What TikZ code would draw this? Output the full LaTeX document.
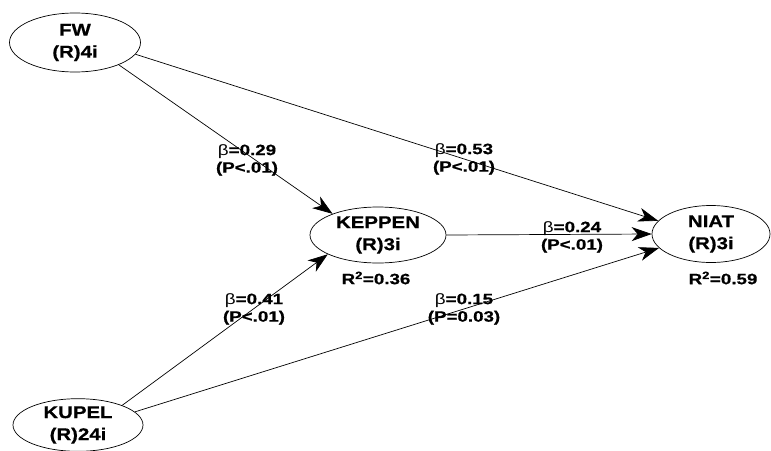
\documentclass[tikz,border=0pt]{standalone}
\usepackage{fontspec}
\setmainfont{Liberation Sans}
\newfontfamily\nodefont{Liberation Sans}[FakeStretch=1.2,BoldFeatures={FakeBold=0.6}]
\newfontfamily\labfont{Liberation Sans}[FakeStretch=1.25,BoldFeatures={FakeBold=0.6}]
\usetikzlibrary{shapes.geometric,arrows.meta}
\begin{document}
\begin{tikzpicture}[x=1pt,y=-1pt,
  latent/.style={ellipse,draw,line width=0.7pt,inner sep=0pt,align=center,
    font=\nodefont\bfseries\fontsize{17}{22}\selectfont},
  coef/.style={align=center,inner sep=0pt,font=\labfont\bfseries\fontsize{15}{17.5}\selectfont},
  path/.style={line width=0.7pt,-{Stealth[length=20pt,width=14pt,inset=6pt]}}]
\path[use as bounding box,fill=white] (0,0) rectangle (771,450);
\node[latent,minimum width=131pt,minimum height=59pt] (fw) at (75,42.5) {FW\\(R)4i};
\node[latent,minimum width=136pt,minimum height=56pt] (keppen) at (378,235) {KEPPEN\\(R)3i};
\node[latent,minimum width=118pt,minimum height=57pt] (niat) at (711,234) {NIAT\\(R)3i};
\node[latent,minimum width=130pt,minimum height=52pt] (kupel) at (78,425) {KUPEL\\(R)24i};
\draw[path] (fw.-27) -- (keppen.155);
\draw[path] (fw.-11) -- (niat.166);
\draw[path] (keppen.0) -- (niat.180);
\draw[path] (kupel.24) -- (keppen.201);
\draw[path] (kupel.13) -- (niat.195);
\node[coef] (c1) at (247,160) {{\mdseries β}=0.29\\(P<.01)};
\node[coef] (c2) at (464,159) {{\mdseries β}=0.53\\(P<.01)};
\node[coef] (c3) at (572,237) {{\mdseries β}=0.24\\(P<.01)};
\node[coef] (c4) at (254,309) {{\mdseries β}=0.41\\(P<.01)};
\node[coef] (c5) at (464,309) {{\mdseries β}=0.15\\(P=0.03)};
\node[coef] (r1) at (376,278) {R\textsuperscript{2}=0.36};
\node[coef] (r2) at (723,278) {R\textsuperscript{2}=0.59};
\end{tikzpicture}
\end{document}
